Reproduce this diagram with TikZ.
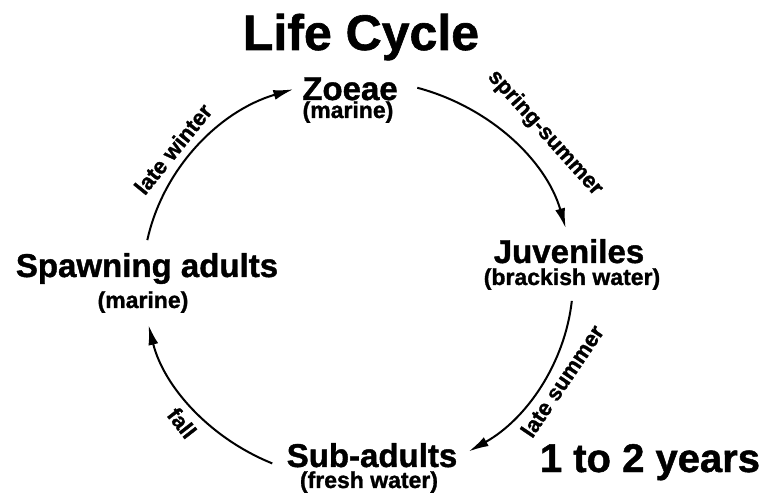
\documentclass[tikz,border=0pt]{standalone}
\usepackage{fontspec}
\setmainfont{Liberation Sans}[BoldFeatures={FakeBold=1.2}]
\usetikzlibrary{arrows.meta}

\tikzset{
  stage/.style={inner sep=0pt,anchor=base,font=\fontsize{33}{36}\selectfont\bfseries},
  habitat/.style={inner sep=0pt,anchor=base,font=\fontsize{23}{26}\selectfont\bfseries},
  season/.style={inner sep=0pt,font=\fontsize{22}{25}\selectfont\bfseries},
  cycarrow/.style={line width=2pt,-{Latex[length=20pt,width=10pt]}}
}

\begin{document}
\begin{tikzpicture}[x=1pt,y=1pt]
  \useasboundingbox (0,0) rectangle (763,498);
  \node[inner sep=0pt,anchor=base,font=\fontsize{50}{54}\selectfont\bfseries] at (361,448) (title) {Life Cycle};
  \node[stage] at (350,398) (zoea) {Zoeae};
  \node[habitat] at (348,380) (zoeaenv) {(marine)};
  \node[stage] at (569,235) (juv) {Juveniles};
  \node[habitat] at (572,213) (juvenv) {(brackish water)};
  \node[stage] at (372,31) (sub) {Sub-adults};
  \node[habitat] at (369,10) (subenv) {(fresh water)};
  \node[stage] at (147,221) (adult) {Spawning adults};
  \node[habitat] at (143,190) (adultenv) {(marine)};
  \node[inner sep=0pt,anchor=base,font=\fontsize{40}{44}\selectfont\bfseries] at (650,26) (span) {1 to 2 years};
  % cycle arrows on one ellipse
  \coordinate (c) at (358,218);
  \path (c) ++(168.5:215pt and 200pt) coordinate (lwstart);
  \path (c) ++(74:215pt and 200pt) coordinate (ssstart);
  \path (c) ++(-6:215pt and 200pt) coordinate (lsstart);
  \path (c) ++(-113.5:215pt and 200pt) coordinate (fallstart);
  \draw[cycarrow] (lwstart) arc[start angle=168.5,end angle=107.5,x radius=215pt,y radius=200pt];
  \draw[cycarrow] (ssstart) arc[start angle=74,end angle=15,x radius=215pt,y radius=200pt];
  \draw[cycarrow] (lsstart) arc[start angle=-6,end angle=-59,x radius=215pt,y radius=200pt];
  \draw[cycarrow] (fallstart) arc[start angle=-113.5,end angle=-167,x radius=215pt,y radius=200pt];
  \node[season,rotate=51] at (173,349) (lw) {late winter};
  \node[season,rotate=-48] at (545,365) (ss) {spring-summer};
  \node[season,rotate=56] at (562,117) (ls) {late summer};
  \node[season,rotate=-52] at (182,75) (fall) {fall};
\end{tikzpicture}
\end{document}
